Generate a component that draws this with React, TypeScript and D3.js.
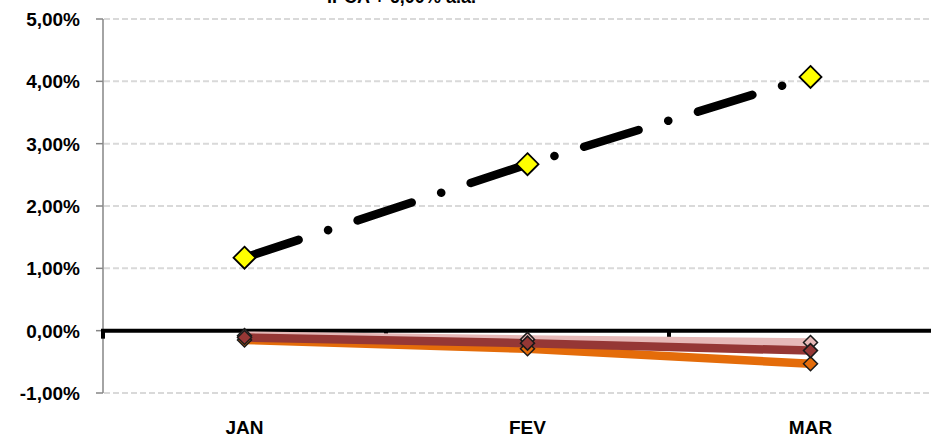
import React from "react";
import * as d3 from "d3";

const months = ["JAN", "FEV", "MAR"];
const ipcaPlus = [1.17, 2.67, 4.07];
const pinkSeries = [-0.08, -0.14, -0.19];
const orangeSeries = [-0.15, -0.29, -0.53];
const redSeries = [-0.11, -0.2, -0.32];
const yTicks = [-1, 0, 1, 2, 3, 4, 5];

const W = 931;
const H = 439;
const FONT = "'Liberation Sans', Arial, sans-serif";

export default function App() {
  const x = d3.scaleBand<string>().domain(months).range([103, 952]).padding(0);
  const y = d3.scaleLinear().domain([-1, 5]).range([393, 19]);
  const cx = (m: string) => (x(m) ?? 0) + x.bandwidth() / 2;
  const line = d3
    .line<number>()
    .x((_, i) => cx(months[i]))
    .y((d) => y(d));

  const diamond = (px: number, py: number, r: number) =>
    `M${px},${py - r}L${px + r},${py}L${px},${py + r}L${px - r},${py}Z`;

  const lowSeries = [
    { data: pinkSeries, color: "#E6B9B8" },
    { data: orangeSeries, color: "#E46C0A" },
    { data: redSeries, color: "#953735" },
  ];

  const boundaries = [0, 1, 2].map((i) => 103 + i * x.bandwidth());

  return (
    <svg
      width={W}
      height={H}
      style={{ position: "absolute", left: 0, top: 0, display: "block", background: "#fff" }}
    >
      {/* partially visible legend text at top */}
      <text x={327} y={3} fontFamily={FONT} fontWeight="bold" fontSize={18} fill="#000">
        IPCA + 6,00% a.a.
      </text>
      <line x1={280} x2={296} y1={-3} y2={-3} stroke="#000" strokeWidth={6} />

      {/* gridlines */}
      {yTicks
        .filter((t) => t !== 0)
        .map((t) => (
          <line
            key={"g" + t}
            x1={104}
            x2={W}
            y1={y(t)}
            y2={y(t)}
            stroke="#D9D9D9"
            strokeWidth={2}
            strokeDasharray="6,3"
          />
        ))}

      {/* y axis */}
      <line x1={103} x2={103} y1={y(5)} y2={y(-1)} stroke="#868686" strokeWidth={1.5} />
      {yTicks.map((t) => (
        <g key={"t" + t}>
          <line x1={96} x2={103} y1={y(t)} y2={y(t)} stroke="#868686" strokeWidth={1.5} />
          <text
            x={80}
            y={y(t) + 7}
            textAnchor="end"
            fontFamily={FONT}
            fontWeight="bold"
            fontSize={19}
            fill="#000"
          >
            {t.toFixed(2).replace(".", ",") + "%"}
          </text>
        </g>
      ))}

      {/* x axis at zero */}
      <line x1={101} x2={W} y1={y(0)} y2={y(0)} stroke="#000" strokeWidth={4} />
      {boundaries.map((b, i) => (
        <line key={"b" + i} x1={b} x2={b} y1={y(0)} y2={y(0) + 8} stroke="#000" strokeWidth={4} />
      ))}
      {months.map((m) => (
        <text
          key={m}
          x={cx(m)}
          y={434}
          textAnchor="middle"
          fontFamily={FONT}
          fontWeight="bold"
          fontSize={19}
          fill="#000"
        >
          {m}
        </text>
      ))}

      {/* low series */}
      {lowSeries.map((s, k) => (
        <path
          key={"l" + k}
          d={line(s.data) ?? ""}
          fill="none"
          stroke={s.color}
          strokeWidth={8.5}
          strokeLinejoin="round"
        />
      ))}
      {lowSeries.map((s, k) =>
        s.data.map((v, i) => (
          <path
            key={"m" + k + i}
            d={diamond(cx(months[i]), y(v), 7)}
            fill={s.color}
            stroke="#1a1a1a"
            strokeWidth={1.5}
          />
        ))
      )}

      {/* IPCA + line */}
      <path
        d={line(ipcaPlus) ?? ""}
        fill="none"
        stroke="#000"
        strokeWidth={8.5}
        strokeLinecap="round"
        strokeLinejoin="round"
        strokeDasharray="57,31,0.1,31"
      />
      {ipcaPlus.map((v, i) => (
        <path
          key={"y" + i}
          d={diamond(cx(months[i]), y(v), 11)}
          fill="#FFFF00"
          stroke="#000"
          strokeWidth={1.8}
        />
      ))}
    </svg>
  );
}
